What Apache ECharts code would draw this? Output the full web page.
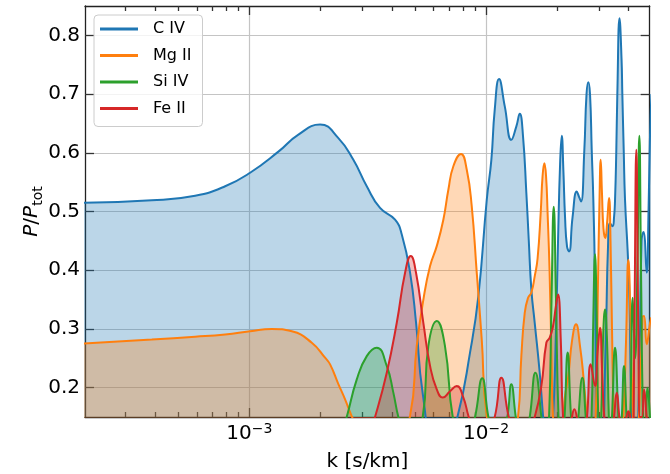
<!DOCTYPE html>
<html>
<head>
<meta charset="utf-8">
<script src="https://cdn.jsdelivr.net/npm/echarts@6/dist/echarts.min.js"></script>
<style>
html, body { margin: 0; padding: 0; background: #fff; }
#chart { width: 670px; height: 474px; }
</style>
</head>
<body>
<div id="chart"></div>
<script>
var FONT = 'DejaVu Sans';

var seriesNames = ['C IV', 'Mg II', 'Si IV', 'Fe II'];
var seriesColors = ['#1f77b4', '#ff7f0e', '#2ca02c', '#d62728'];

//x ticks (k in s/km)
var majorTicksX = [1e-3, 1e-2];
var minorTicksX = [3e-4, 4e-4, 5e-4, 6e-4, 7e-4, 8e-4, 9e-4,
    2e-3, 3e-3, 4e-3, 5e-3, 6e-3, 7e-3, 8e-3, 9e-3,
    2e-2, 3e-2, 4e-2];
var ticksY = [0.2, 0.3, 0.4, 0.5, 0.6, 0.7, 0.8];

//C IV
var civK = [2.0e-4, 3.87e-4, 5.90e-4, 7.90e-4, 1.007e-3, 1.326e-3, 1.611e-3, 1.99e-3, 2.377e-3, 2.75e-3,
    3.133e-3, 3.565e-3, 4.126e-3, 4.405e-3, 4.775e-3, 5.06e-3, 5.40e-3, 6.3e-3, 7.59e-3, 8.56e-3,
    9.28e-3, 1.007e-2, 1.053e-2, 1.088e-2, 1.135e-2, 1.20e-2, 1.279e-2, 1.343e-2, 1.388e-2, 1.433e-2,
    1.48e-2, 1.515e-2, 1.554e-2, 1.606e-2, 1.686e-2, 1.741e-2, 1.828e-2, 1.919e-2, 1.975e-2, 2.015e-2,
    2.055e-2, 2.089e-2, 2.122e-2, 2.157e-2, 2.199e-2, 2.243e-2, 2.32e-2, 2.417e-2, 2.471e-2, 2.52e-2,
    2.602e-2, 2.658e-2, 2.705e-2, 2.75e-2, 2.796e-2, 2.84e-2, 2.887e-2, 2.935e-2, 3.06e-2, 3.213e-2,
    3.276e-2, 3.341e-2, 3.423e-2, 3.474e-2, 3.508e-2, 3.552e-2, 3.587e-2, 3.664e-2, 3.737e-2, 3.766e-2,
    3.817e-2, 3.866e-2, 3.969e-2, 4.039e-2, 4.119e-2, 4.262e-2, 4.43e-2, 4.539e-2, 4.628e-2, 4.774e-2,
    4.859e-2, 4.93e-2, 5.0e-2];
var civP = [0.515, 0.519, 0.527, 0.543, 0.566, 0.602, 0.631, 0.648, 0.625, 0.588,
    0.543, 0.506, 0.486, 0.461, 0.396, 0.311, 0.19, 0.05, 0.152, 0.26,
    0.356, 0.52, 0.588, 0.673, 0.7255, 0.679, 0.622, 0.645, 0.6665, 0.628,
    0.532, 0.452, 0.367, 0.31, 0.225, 0.152, 0.05, 0.15, 0.30, 0.452,
    0.58, 0.629, 0.57, 0.49, 0.44, 0.432, 0.49, 0.534, 0.525, 0.517,
    0.605, 0.70, 0.72, 0.70, 0.605, 0.52, 0.38, 0.15, 0.05, 0.30,
    0.44, 0.48, 0.475, 0.49, 0.52, 0.605, 0.70, 0.829, 0.76, 0.70,
    0.605, 0.52, 0.43, 0.35, 0.15, 0.05, 0.2, 0.45, 0.465, 0.396,
    0.5, 0.63, 0.7];

//Mg II
var mgK = [2.0e-4, 3.87e-4, 5.90e-4, 7.90e-4, 1.007e-3, 1.243e-3, 1.511e-3, 1.835e-3, 2.088e-3, 2.193e-3,
    2.377e-3, 2.537e-3, 2.708e-3, 3.5e-3, 4.775e-3, 5.095e-3, 5.435e-3, 5.80e-3, 6.19e-3, 6.60e-3,
    6.93e-3, 7.275e-3, 7.84e-3, 8.29e-3, 8.70e-3, 9.135e-3, 9.59e-3, 1.007e-2, 1.17e-2, 1.365e-2,
    1.41e-2, 1.457e-2, 1.505e-2, 1.554e-2, 1.606e-2, 1.651e-2, 1.703e-2, 1.733e-2, 1.764e-2, 1.793e-2,
    1.819e-2, 1.855e-2, 1.891e-2, 1.919e-2, 2.015e-2, 2.122e-2, 2.157e-2, 2.227e-2, 2.309e-2, 2.40e-2,
    2.496e-2, 2.577e-2, 2.663e-2, 2.777e-2, 2.906e-2, 2.972e-2, 3.016e-2, 3.051e-2, 3.09e-2, 3.136e-2,
    3.192e-2, 3.245e-2, 3.309e-2, 3.357e-2, 3.406e-2, 3.474e-2, 3.648e-2, 3.802e-2, 3.904e-2, 3.992e-2,
    4.086e-2, 4.178e-2, 4.303e-2, 4.474e-2, 4.584e-2, 4.651e-2, 4.774e-2, 4.93e-2, 5.0e-2];
var mgP = [0.2753, 0.282, 0.2867, 0.2906, 0.296, 0.300, 0.296, 0.2765, 0.251, 0.2396,
    0.206, 0.18, 0.151, 0.05, 0.152, 0.271, 0.35, 0.407, 0.441, 0.486,
    0.537, 0.577, 0.598, 0.571, 0.509, 0.396, 0.282, 0.152, 0.05, 0.15,
    0.254, 0.3275, 0.353, 0.362, 0.39, 0.42, 0.50, 0.56, 0.582, 0.56,
    0.50, 0.40, 0.25, 0.15, 0.05, 0.15, 0.186, 0.22, 0.28, 0.308,
    0.27, 0.22, 0.15, 0.05, 0.15, 0.38, 0.52, 0.588, 0.53, 0.47,
    0.455, 0.48, 0.523, 0.45, 0.30, 0.15, 0.05, 0.15, 0.28, 0.418,
    0.305, 0.15, 0.08, 0.2, 0.32, 0.322, 0.274, 0.31, 0.32];

//Si IV
var siK = [2.0e-4, 1.5e-3, 2.3e-3, 2.578e-3, 2.843e-3, 3.133e-3, 3.452e-3, 3.806e-3, 4.058e-3, 4.26e-3,
    4.775e-3, 5.40e-3, 5.704e-3, 6.19e-3, 6.71e-3, 7.233e-3, 8.07e-3, 8.985e-3, 9.636e-3, 1.023e-2,
    1.124e-2, 1.23e-2, 1.279e-2, 1.335e-2, 1.419e-2, 1.53e-2, 1.616e-2, 1.713e-2, 1.784e-2, 1.846e-2,
    1.891e-2, 1.932e-2, 1.975e-2, 2.024e-2, 2.084e-2, 2.147e-2, 2.213e-2, 2.287e-2, 2.377e-2, 2.455e-2,
    2.552e-2, 2.637e-2, 2.711e-2, 2.791e-2, 2.84e-2, 2.887e-2, 2.935e-2, 2.98e-2, 3.02e-2, 3.066e-2,
    3.12e-2, 3.183e-2, 3.245e-2, 3.303e-2, 3.357e-2, 3.406e-2, 3.508e-2, 3.623e-2, 3.683e-2, 3.748e-2,
    3.828e-2, 3.923e-2, 3.992e-2, 4.066e-2, 4.168e-2, 4.262e-2, 4.358e-2, 4.444e-2, 4.517e-2, 4.607e-2,
    4.697e-2, 4.813e-2, 4.93e-2, 5.0e-2];
var siP = [0.05, 0.05, 0.08, 0.15, 0.214, 0.2537, 0.268, 0.237, 0.1915, 0.15,
    0.08, 0.15, 0.2707, 0.3133, 0.27, 0.15, 0.08, 0.15, 0.216, 0.15,
    0.08, 0.15, 0.2056, 0.15, 0.08, 0.15, 0.2255, 0.15, 0.08, 0.15,
    0.35, 0.508, 0.35, 0.15, 0.08, 0.15, 0.26, 0.15, 0.08, 0.15,
    0.217, 0.15, 0.08, 0.15, 0.32, 0.427, 0.32, 0.15, 0.12, 0.15,
    0.28, 0.333, 0.28, 0.15, 0.1, 0.15, 0.268, 0.15, 0.1, 0.15,
    0.237, 0.15, 0.1, 0.15, 0.353, 0.25, 0.40, 0.629, 0.40, 0.15,
    0.1, 0.2, 0.15, 0.1];

//Fe II
var feK = [2.0e-4, 2.5e-3, 3.1e-3, 3.396e-3, 3.806e-3, 4.195e-3, 4.548e-3, 4.807e-3, 5.06e-3, 5.435e-3,
    5.80e-3, 6.19e-3, 6.562e-3, 7.046e-3, 7.52e-3, 8.02e-3, 8.42e-3, 9.53e-3, 1.088e-2, 1.161e-2,
    1.247e-2, 1.41e-2, 1.606e-2, 1.713e-2, 1.798e-2, 1.858e-2, 1.919e-2, 1.975e-2, 2.015e-2, 2.069e-2,
    2.115e-2, 2.221e-2, 2.309e-2, 2.361e-2, 2.417e-2, 2.545e-2, 2.671e-2, 2.769e-2, 2.887e-2, 2.959e-2,
    3.03e-2, 3.099e-2, 3.16e-2, 3.309e-2, 3.474e-2, 3.567e-2, 3.658e-2, 3.792e-2, 3.923e-2, 3.992e-2,
    4.066e-2, 4.159e-2, 4.233e-2, 4.315e-2, 4.40e-2, 4.474e-2, 4.549e-2, 4.651e-2, 4.774e-2, 4.93e-2,
    5.0e-2];
var feP = [0.05, 0.05, 0.1, 0.15, 0.2255, 0.3105, 0.3956, 0.424, 0.3956, 0.31,
    0.237, 0.197, 0.183, 0.194, 0.2027, 0.183, 0.152, 0.08, 0.15, 0.217,
    0.15, 0.08, 0.15, 0.203, 0.2765, 0.285, 0.305, 0.34, 0.3587, 0.282,
    0.15, 0.1, 0.15, 0.163, 0.15, 0.08, 0.15, 0.24, 0.203, 0.26,
    0.302, 0.22, 0.15, 0.08, 0.15, 0.1915, 0.15, 0.1, 0.15, 0.16,
    0.15, 0.1, 0.3, 0.605, 0.3, 0.15, 0.15, 0.197, 0.15, 0.1,
    0.1];

//zip k and P into [x, y] pairs
function pairs(k, p) {
    var list = [];
    for (var i = 0; i < k.length; i++) {
        list.push([k[i], p[i]]);
    }
    return list;
}

function makeSeries(idx, k, p) {
    var color = seriesColors[idx];
    return {
        name: seriesNames[idx],
        type: 'line',
        data: pairs(k, p),
        smooth: 0.5,
        showSymbol: false,
        symbol: 'none',
        clip: true,
        silent: true,
        lineStyle: { color: color, width: 2 },
        itemStyle: { color: color },
        areaStyle: { color: color, opacity: 0.3 }
    };
}

var axisColor = '#222';
var tickStyle = { color: '#333', width: 1.3 };

function logAxis(position, ticks, len, main) {
    return {
        type: 'log',
        position: position,
        min: 2.02e-4,
        max: 4.915e-2,
        axisLine: { show: main, onZero: false, lineStyle: { color: axisColor, width: 1.3 } },
        axisTick: { show: true, inside: true, length: len, customValues: ticks, lineStyle: tickStyle },
        axisLabel: { show: false },
        splitLine: { show: false },
        minorTick: { show: false }
    };
}

var xBottom = logAxis('bottom', majorTicksX, 9, true);
xBottom.splitLine = { show: true, lineStyle: { color: '#c4c4c4', width: 1.2 } };
xBottom.axisLabel = {
    show: true,
    customValues: majorTicksX,
    margin: 5,
    formatter: function (v) {
        var e = Math.round(Math.log(v) / Math.LN10);
        return '{b|10}{s|' + (e < 0 ? '\u2212' : '') + Math.abs(e) + '}';
    },
    rich: {
        b: { fontFamily: FONT, fontSize: 20, color: '#000', lineHeight: 24 },
        s: { fontFamily: FONT, fontSize: 14, color: '#000', lineHeight: 12, verticalAlign: 'top' }
    }
};
xBottom.name = 'k [s/km]';
xBottom.nameLocation = 'middle';
xBottom.nameGap = 35;
xBottom.nameMoveOverlap = false;
xBottom.nameTextStyle = { fontFamily: FONT, fontSize: 20, color: '#000', lineHeight: 20 };

function linAxis(position, main) {
    return {
        type: 'value',
        position: position,
        min: 0.15,
        max: 0.85,
        axisLine: { show: true, onZero: false, lineStyle: { color: axisColor, width: 1.3 } },
        axisTick: { show: true, inside: true, length: 9, customValues: ticksY, lineStyle: tickStyle },
        axisLabel: { show: false },
        splitLine: { show: false }
    };
}

var yLeft = linAxis('left', true);
yLeft.splitLine = { show: true, lineStyle: { color: '#c4c4c4', width: 1.2 } };
yLeft.axisLabel = {
    show: true,
    customValues: ticksY,
    margin: 5,
    fontFamily: FONT,
    fontSize: 20,
    color: '#000',
    formatter: function (v) { return v.toFixed(1); }
};
yLeft.name = '{i|P}{r|/}{i|P}{s|tot}';
yLeft.nameLocation = 'middle';
yLeft.nameGap = 40;
yLeft.nameMoveOverlap = false;
yLeft.nameTextStyle = {
    rich: {
        i: { fontFamily: FONT, fontSize: 20, fontStyle: 'italic', color: '#000', lineHeight: 26 },
        r: { fontFamily: FONT, fontSize: 20, color: '#000', lineHeight: 26 },
        s: { fontFamily: FONT, fontSize: 14, color: '#000', lineHeight: 12, verticalAlign: 'bottom' }
    }
};

var chart = echarts.init(document.getElementById('chart'), null, { renderer: 'canvas' });

var option = {
    animation: false,
    backgroundColor: '#fff',
    grid: {
        left: 85, top: 6, width: 564.7, height: 411,
        containLabel: false, outerBoundsMode: 'none'
    },
    legend: {
        orient: 'vertical',
        left: 94,
        top: 15,
        padding: [5, 11, 9, 6],
        itemWidth: 38,
        itemHeight: 3,
        itemGap: 8.5,
        icon: 'rect',
        backgroundColor: 'rgba(255,255,255,0.8)',
        borderColor: '#cccccc',
        borderWidth: 1,
        borderRadius: 4,
        textStyle: { fontFamily: FONT, fontSize: 16, color: '#000', lineHeight: 18, padding: [0, 0, 0, 10] },
        data: seriesNames
    },
    xAxis: [
        xBottom,
        logAxis('bottom', minorTicksX, 5, false),
        logAxis('top', majorTicksX, 9, true),
        logAxis('top', minorTicksX, 5, false)
    ],
    yAxis: [yLeft, linAxis('right', true)],
    series: [
        makeSeries(0, civK, civP),
        makeSeries(1, mgK, mgP),
        makeSeries(2, siK, siP),
        makeSeries(3, feK, feP)
    ]
};

chart.setOption(option);
</script>
</body>
</html>
